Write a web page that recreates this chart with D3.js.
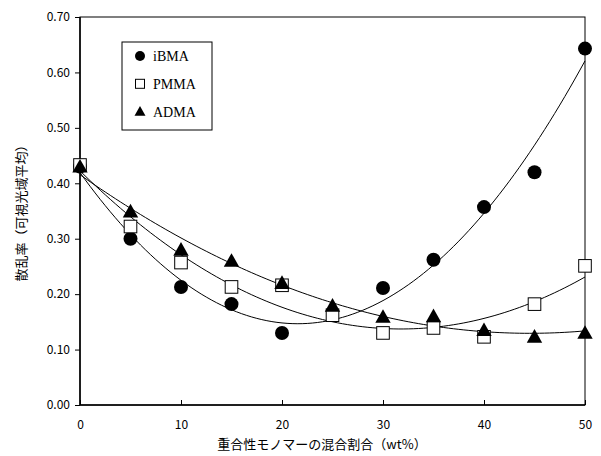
<!DOCTYPE html>
<html>
<head>
<meta charset="utf-8">
<script src="https://cdn.jsdelivr.net/npm/d3@7/dist/d3.min.js"></script>
<style>
body { margin: 0; background: #fff; }
svg { display: block; }
.tick text { font-family: "Noto Sans CJK JP", "DejaVu Sans", sans-serif; font-size: 12px; fill: #000; }
</style>
</head>
<body>
<svg id="chart" width="601" height="456"></svg>
<script>
const Width = 601;
const Height = 456;

// mixing ratio of polymerizable monomer (wt%)
const ratios = [0, 5, 10, 15, 20, 25, 30, 35, 40, 45, 50];
const ibma = [0.43, 0.30, 0.213, 0.182, 0.130, null, 0.211, 0.262, 0.357, 0.420, 0.643];
const pmma = [0.433, 0.322, 0.257, 0.213, 0.216, 0.162, 0.130, 0.139, 0.123, 0.182, 0.251];
const adma = [0.43, 0.349, 0.280, 0.260, 0.220, 0.179, 0.159, 0.160, 0.135, 0.123, 0.130];
const seriesNames = ["iBMA", "PMMA", "ADMA"];
const seriesShapes = ["circle", "square", "triangle"];
const fitOrders = [2, 2, 2];
const xTicks = [0, 10, 20, 30, 40, 50];
const yTicks = [0, 0.1, 0.2, 0.3, 0.4, 0.5, 0.6, 0.7];

const margin = {top: 17, right: 16, bottom: 51, left: 80};
const svg = d3.select("#chart");

const x = d3.scaleLinear().domain([0, 50]).range([margin.left, Width - margin.right]);
const y = d3.scaleLinear().domain([0, 0.7]).range([Height - margin.bottom, margin.top]);

// least squares polynomial fit (like an excel trend line)
function polyFit(xs, ys, order) {
	const pts = xs.map((v, i) => [v / 50, ys[i]]).filter(p => p[1] != null);
	const n = order + 1;
	const A = [];
	for(let r = 0; r < n; r++) {
		A.push([]);
		for(let c = 0; c <= n; c++) A[r].push(0);
	}
	pts.forEach(p => {
		for(let r = 0; r < n; r++) {
			for(let c = 0; c < n; c++) A[r][c] += Math.pow(p[0], r + c);
			A[r][n] += p[1] * Math.pow(p[0], r);
		}
	});
	for(let i = 0; i < n; i++) {
		let m = i;
		for(let k = i + 1; k < n; k++) if(Math.abs(A[k][i]) > Math.abs(A[m][i])) m = k;
		[A[i], A[m]] = [A[m], A[i]];
		for(let k = i + 1; k < n; k++) {
			const f = A[k][i] / A[i][i];
			for(let c = i; c <= n; c++) A[k][c] -= f * A[i][c];
		}
	}
	const coef = new Array(n).fill(0);
	for(let i = n - 1; i >= 0; i--) {
		let s = A[i][n];
		for(let c = i + 1; c < n; c++) s -= A[i][c] * coef[c];
		coef[i] = s / A[i][i];
	}
	return v => coef.reduce((s, c, i) => s + c * Math.pow(v / 50, i), 0);
}

const data = [ibma, pmma, adma].map((vals, i) => ({
	name: seriesNames[i],
	shape: seriesShapes[i],
	values: ratios.map((r, j) => ({x: r, y: vals[j]})).filter(d => d.y != null),
	fit: polyFit(ratios, vals, fitOrders[i])
}));

// axes
const yAxis = svg.append("g").attr("transform", `translate(${margin.left},0)`)
	.call(d3.axisLeft(y).tickValues(yTicks).tickFormat(d3.format(".2f")).tickSize(5).tickPadding(5).tickSizeOuter(0));
yAxis.select(".domain").remove();
const xAxis = svg.append("g").attr("transform", `translate(0,${Height - margin.bottom})`)
	.call(d3.axisTop(x).tickValues(xTicks).tickSize(5).tickSizeOuter(0));
xAxis.select(".domain").remove();
xAxis.selectAll("text").attr("y", 20).attr("dy", "0.35em");

// frame
svg.append("rect").attr("x", margin.left).attr("y", margin.top)
	.attr("width", Width - margin.left - margin.right).attr("height", Height - margin.top - margin.bottom)
	.attr("fill", "none").attr("stroke", "#000").attr("stroke-width", 1);
svg.append("path").attr("d", `M${margin.left},${margin.top}V${Height - margin.bottom}H${Width - margin.right}`)
	.attr("fill", "none").attr("stroke", "#000").attr("stroke-width", 1.5);

// trend lines
const samples = d3.range(0, 50.01, 0.5);
data.forEach(s => {
	svg.append("path")
		.attr("d", d3.line().x(v => x(v)).y(v => y(s.fit(v)))(samples))
		.attr("fill", "none").attr("stroke", "#000").attr("stroke-width", 1);
});

function drawMarker(g, shape, size) {
	if(shape == "circle")
		g.append("circle").attr("r", size / 2).attr("fill", "#000");
	else if(shape == "square")
		g.append("rect").attr("x", -size * 0.45).attr("y", -size * 0.45).attr("width", size * 0.9).attr("height", size * 0.9)
			.attr("fill", "#fff").attr("stroke", "#000").attr("stroke-width", 1);
	else
		g.append("path").attr("d", `M0,${-size * 0.55}L${size * 0.55},${size * 0.42}L${-size * 0.55},${size * 0.42}Z`).attr("fill", "#000");
}

// markers: draw in order so triangles cover squares cover circles
data.forEach(s => {
	svg.append("g").selectAll("g").data(s.values).enter().append("g")
		.attr("transform", d => `translate(${x(d.x)},${y(d.y)})`)
		.each(function() { drawMarker(d3.select(this), s.shape, 14); });
});

// axis titles
svg.append("text").attr("x", 322).attr("y", 444).attr("dy", "0.35em").attr("text-anchor", "middle")
	.attr("font-family", "'Noto Sans CJK JP', sans-serif").attr("font-size", 13)
	.text("重合性モノマーの混合割合（wt%）");
svg.append("text").attr("transform", "translate(21,210) rotate(-90)").attr("dy", "0.35em").attr("text-anchor", "middle")
	.attr("font-family", "'Noto Sans CJK JP', sans-serif").attr("font-size", 13)
	.text("散乱率（可視光域平均）");

// legend
const legend = svg.append("g").attr("transform", "translate(122,42)");
legend.append("rect").attr("width", 90).attr("height", 88).attr("fill", "#fff").attr("stroke", "#000").attr("stroke-width", 1);
const items = legend.selectAll("g.item").data(data).enter().append("g").attr("class", "item")
	.attr("transform", (d, i) => `translate(18,${14 + i * 27.8})`);
items.each(function(d) { drawMarker(d3.select(this), d.shape, 10); });
items.append("text").attr("x", 13).attr("dy", "0.35em")
	.attr("font-family", "'Liberation Serif', 'Times New Roman', serif").attr("font-size", 14)
	.text(d => d.name);
</script>
</body>
</html>
